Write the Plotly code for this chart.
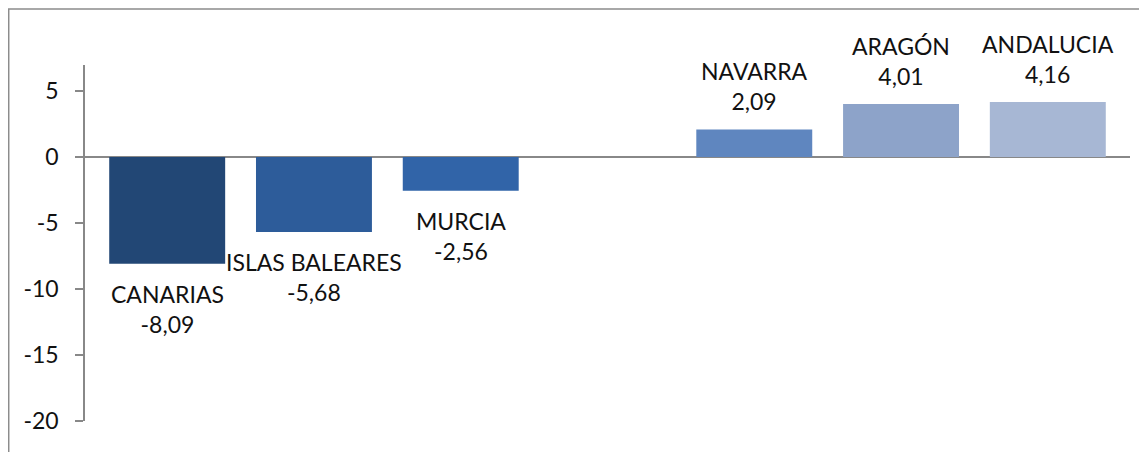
import plotly.graph_objects as go

# regions and values (empty slot in the middle, as in the original sheet)
regions = ["CANARIAS", "ISLAS BALEARES", "MURCIA", "", "NAVARRA", "ARAGÓN", "ANDALUCIA"]
values = [-8.09, -5.68, -2.56, None, 2.09, 4.01, 4.16]
value_labels = ["-8,09", "-5,68", "-2,56", "", "2,09", "4,01", "4,16"]
bar_colors = ["#224775", "#2d5c9a", "#3164a8", "#ffffff", "#5f86bf", "#8da3c9", "#a7b7d4"]

y_tickvals = [5, 0, -5, -10, -15, -20]
y_ticktext = ["5", "0", "-5", "-10", "-15", "-20"]

FONT = "Lato"

x_pos = list(range(len(regions)))

fig = go.Figure()

fig.add_trace(go.Bar(
    x=x_pos,
    y=values,
    width=0.79,
    marker=dict(color=bar_colors, line=dict(width=0)),
    showlegend=False,
    hoverinfo="skip"
))

# labels under negative bars, above positive ones
for i, (name, v, lab) in enumerate(zip(regions, values, value_labels)):
    if v is None:
        continue
    fig.add_annotation(
        x=i, y=v,
        text=f"{name}<br>{lab}",
        showarrow=False,
        yanchor="top" if v < 0 else "bottom",
        yshift=-14 if v < 0 else 12,
        font=dict(family=FONT, size=23, color="#111111"),
        align="center"
    )

# thin frame round the whole chart
fig.add_shape(
    type="rect", xref="paper", yref="paper",
    x0=-0.073, x1=1.2, y0=-0.3, y1=1.157,
    line=dict(color="#8c8c8c", width=1.5),
    fillcolor="rgba(0,0,0,0)", layer="below"
)

# the page body adds 8px round the figure, so the figure is a little smaller
fig.update_layout(
    width=1139, height=444,
    margin=dict(l=77, r=17, t=57, b=31, autoexpand=False),
    paper_bgcolor="white",
    plot_bgcolor="white",
    font=dict(family=FONT, size=23, color="#111111"),
    xaxis=dict(
        range=[-0.56, 6.56],
        showticklabels=False,
        showgrid=False,
        zeroline=False,
        showline=False,
        ticks="",
        automargin=False
    ),
    yaxis=dict(
        range=[-20, 6.97],
        tickvals=y_tickvals,
        ticktext=y_ticktext,
        showgrid=False,
        zeroline=True,
        zerolinecolor="#888888",
        zerolinewidth=1.5,
        showline=True,
        linecolor="#888888",
        linewidth=1.5,
        ticks="outside",
        ticklen=8,
        tickcolor="#888888",
        tickwidth=1.5,
        ticklabelstandoff=12,
        automargin=False,
        tickfont=dict(family=FONT, size=23, color="#111111")
    )
)

fig.write_html("out.html")
